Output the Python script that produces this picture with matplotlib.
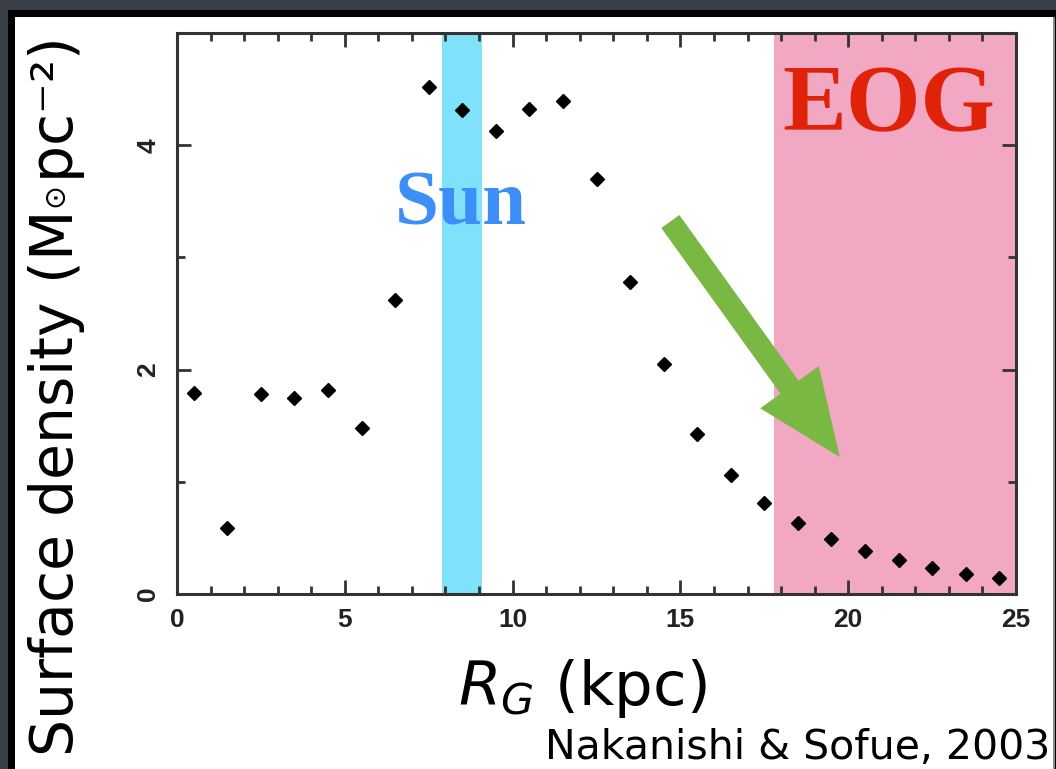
import numpy as np
import matplotlib
matplotlib.use("Agg")
import matplotlib.pyplot as plt
from matplotlib.patches import Rectangle
from matplotlib.ticker import MultipleLocator

# galactocentric radius bins (kpc) and surface density (Msun pc^-2)
radius = [0.5, 1.5, 2.5, 3.5, 4.5, 5.5, 6.5, 7.5, 8.5, 9.5, 10.5, 11.5, 12.5,
          13.5, 14.5, 15.5, 16.5, 17.5, 18.5, 19.5, 20.5, 21.5, 22.5, 23.5, 24.5]
density = [1.79, 0.59, 1.78, 1.75, 1.82, 1.48, 2.62, 4.52, 4.31, 4.13, 4.32, 4.39, 3.70,
           2.78, 2.05, 1.43, 1.06, 0.81, 0.63, 0.49, 0.38, 0.30, 0.23, 0.18, 0.14]

sun_band = (7.9, 9.1)
eog_band = (17.8, 25.0)
arrow_tail = (14.7, 3.32)
arrow_tip = (19.75, 1.22)

W, H = 1056, 769
fig = plt.figure(figsize=(W / 100, H / 100), dpi=100, facecolor='#3a3e48')

# slide frame: black border + white panel
fig.add_artist(Rectangle((8 / W, 0), 1, 1 - 10 / H, transform=fig.transFigure,
                         facecolor='black', edgecolor='none', zorder=-3))
fig.add_artist(Rectangle((15 / W, 0), (1053 - 15) / W, 1 - 17 / H, transform=fig.transFigure,
                         facecolor='white', edgecolor='none', zorder=-2))
fig.add_artist(Rectangle((1053 / W, 0), 1.5 / W, 1 - 17 / H, transform=fig.transFigure,
                         facecolor='#888888', edgecolor='none', zorder=-1))

ax = fig.add_axes([177 / W, 1 - 594 / H, (1016 - 177) / W, (594 - 33) / H])
ax.set_xlim(0, 25)
ax.set_ylim(0, 5)

ax.axvspan(*sun_band, color='#80e1fb', lw=0, zorder=0)
ax.axvspan(*eog_band, color='#f2a8c3', lw=0, zorder=0)

ax.plot(radius, density, 'D', color='black', markersize=7.5, zorder=3)

ax.annotate('', xy=arrow_tip, xytext=arrow_tail,
            arrowprops=dict(arrowstyle='simple,head_length=6.2,head_width=5.2,tail_width=1.6',
                            mutation_scale=10, color='#79b943', lw=0,
                            shrinkA=0, shrinkB=0), zorder=2)

ax.text(8.45, 3.29, 'Sun', color='#3e8ef7', fontsize=57, fontweight='bold',
        family='Liberation Serif', ha='center', va='baseline', zorder=4)
ax.text(21.2, 4.12, 'EOG', color='#e02308', fontsize=69, fontweight='bold',
        family='Liberation Serif', ha='center', va='baseline', zorder=4)

ax.xaxis.set_major_locator(MultipleLocator(5))
ax.xaxis.set_minor_locator(MultipleLocator(1))
ax.yaxis.set_major_locator(MultipleLocator(2))
ax.yaxis.set_minor_locator(MultipleLocator(1))
ax.tick_params(which='both', direction='in', top=True, right=True, color='#333333', width=2)
ax.tick_params(which='major', length=10)
ax.tick_params(which='minor', length=5.5)
ax.tick_params(axis='x', pad=10, labelsize=19, labelcolor='#222222')
ax.tick_params(axis='y', pad=12, labelsize=19, labelcolor='#222222', labelrotation=90)
for lab in ax.get_xticklabels() + ax.get_yticklabels():
    lab.set_family('Liberation Sans')
    lab.set_fontweight('bold')
for lab in ax.get_yticklabels():
    lab.set_va('center')
for sp in ax.spines.values():
    sp.set_linewidth(2.2)
    sp.set_color('#333333')

fig.text(57 / W, 1 - 398 / H, 'Surface density (M${}_{{}^{\\odot}}$pc\u207b\u00b2)', rotation=90,
         fontsize=42, ha='center', va='center', family='DejaVu Sans')
fig.text(582 / W, 1 - 705 / H, r'$R_G$ (kpc)', fontsize=44, ha='center', va='baseline',
         family='DejaVu Sans')
fig.text(1050 / W, 1 - 759 / H, 'Nakanishi & Sofue, 2003', fontsize=29.5, ha='right',
         va='baseline', family='DejaVu Sans')

fig.savefig('out.png', dpi=100, facecolor=fig.get_facecolor())
